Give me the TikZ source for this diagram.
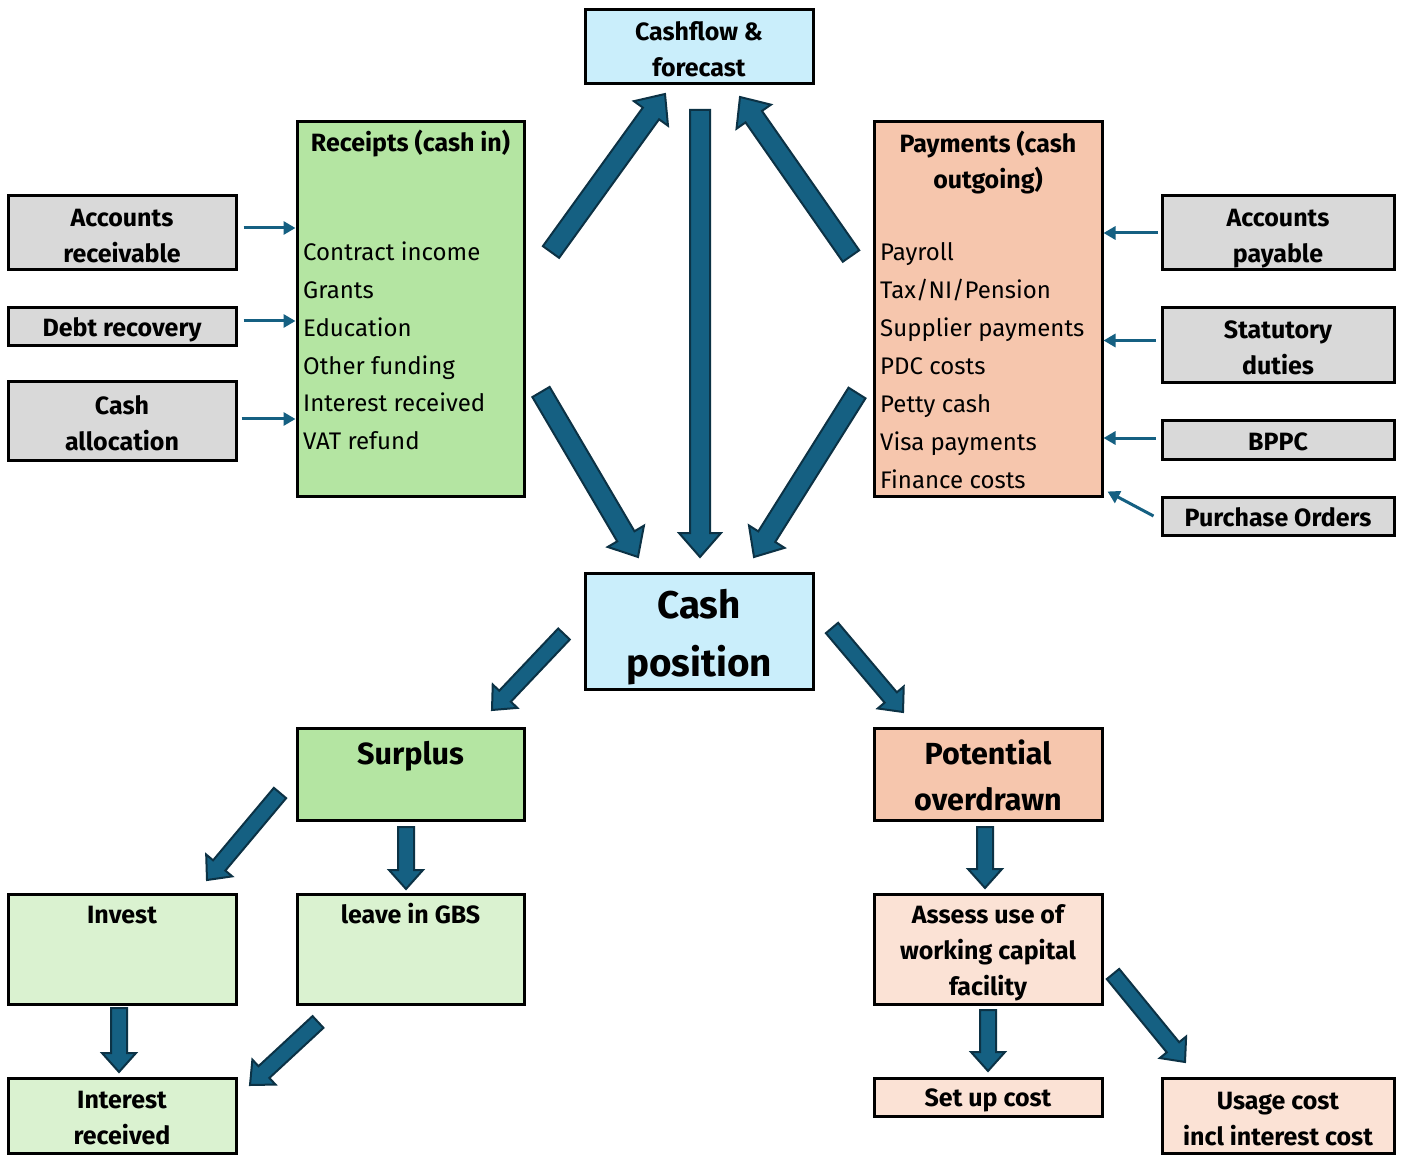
\documentclass[tikz,border=0pt]{standalone}
\usepackage{fontspec}
\setmainfont{Fira Sans}
\usetikzlibrary{calc,arrows.meta}
\definecolor{blueL}{HTML}{CAEEFB}
\definecolor{greenM}{HTML}{B4E5A2}
\definecolor{peachM}{HTML}{F6C6AD}
\definecolor{grayM}{HTML}{D9D9D9}
\definecolor{greenL}{HTML}{DAF2D0}
\definecolor{peachL}{HTML}{FBE2D5}
\definecolor{arrfill}{HTML}{156082}
\definecolor{arrline}{HTML}{0C3245}
\newcommand\barr[5]{%
  \coordinate (bk) at ($(#2)!#5!(#1)$);
  \draw[barrow] ($(#1)!#3!90:(#2)$) -- ($(bk)!#3!90:(#2)$) -- ($(bk)!#4!90:(#2)$) -- (#2)
    -- ($(bk)!#4!-90:(#2)$) -- ($(bk)!#3!-90:(#2)$) -- ($(#1)!#3!-90:(#2)$) -- cycle;}
\newcommand\bigarr[2]{\barr{#1}{#2}{10pt}{21pt}{24pt}}
\newcommand\smarr[2]{\barr{#1}{#2}{8pt}{17pt}{19pt}}
\tikzset{
  box/.style={draw=black, line width=3pt, inner sep=0pt},
  lab/.style={font=\bfseries\fontsize{25}{36}\selectfont, align=center, inner sep=0pt},
  lst/.style={font=\fontsize{24}{37.8}\selectfont, align=left, inner sep=0pt},
  barrow/.style={fill=arrfill, draw=arrline, line width=2pt, line join=miter},
  thinarr/.style={draw=arrfill, line width=3pt, -{Triangle[length=12pt,width=13pt]}},
}
\begin{document}
\begin{tikzpicture}[x=1pt,y=-1pt]
\useasboundingbox[fill=white] (0,0) rectangle (1403,1155);
% boxes
\node[box, fill=blueL, minimum width=228, minimum height=74] (cashflow) at (699,47) {};
\node[box, fill=greenM, minimum width=227, minimum height=374] (receipts) at (410.5,309) {};
\node[box, fill=peachM, minimum width=228, minimum height=374] (payments) at (988,309) {};
\node[box, fill=grayM, minimum width=228, minimum height=74] (arecv) at (122,233) {};
\node[box, fill=grayM, minimum width=228, minimum height=38] (debt) at (122,327) {};
\node[box, fill=grayM, minimum width=228, minimum height=78] (calloc) at (122,421) {};
\node[box, fill=grayM, minimum width=232, minimum height=74] (apay) at (1278,233) {};
\node[box, fill=grayM, minimum width=232, minimum height=75] (stat) at (1278,345.5) {};
\node[box, fill=grayM, minimum width=232, minimum height=38] (bppc) at (1278,440) {};
\node[box, fill=grayM, minimum width=232, minimum height=38] (po) at (1278,516) {};
\node[box, fill=blueL, minimum width=228, minimum height=116] (cashpos) at (699,631) {};
\node[box, fill=greenM, minimum width=227, minimum height=92] (surplus) at (410.5,774) {};
\node[box, fill=peachM, minimum width=228, minimum height=92] (potential) at (988,774) {};
\node[box, fill=greenL, minimum width=228, minimum height=110] (invest) at (122,949) {};
\node[box, fill=greenL, minimum width=227, minimum height=110] (gbs) at (410.5,949) {};
\node[box, fill=greenL, minimum width=228, minimum height=75] (intrec) at (122,1115.5) {};
\node[box, fill=peachL, minimum width=228, minimum height=110] (assess) at (988,949) {};
\node[box, fill=peachL, minimum width=228, minimum height=38] (setup) at (988,1097) {};
\node[box, fill=peachL, minimum width=232, minimum height=75] (usage) at (1278,1115.5) {};
% texts
\node[lab] (cashflowT) at ([yshift=-2pt]cashflow) {Cashflow \&\\forecast};
\node[lab, anchor=base] (rtitle) at (410.5,152) {Receipts (cash in)};
\node[lab, anchor=north] (ptitle) at (988,127) {\strut Payments (cash\\outgoing)};
\node[lst, anchor=north west] (rlist) at (303,234) {\strut Contract income\\Grants\\Education\\Other funding\\Interest received\\VAT refund};
\node[lst, anchor=north west, font=\fontsize{24}{38}\selectfont] (plist) at (880,234) {\strut Payroll\\Tax/NI/Pension\\Supplier payments\\PDC costs\\Petty cash\\Visa payments\\Finance costs};
\node[lab] (arecvT) at ([yshift=-3pt]arecv) {Accounts\\receivable};
\node[lab] (debtT) at ([yshift=-3pt]debt) {Debt recovery};
\node[lab] (callocT) at ([yshift=-2pt]calloc) {Cash\\allocation};
\node[lab] (apayT) at ([yshift=-6pt]apay) {Accounts\\payable};
\node[lab] (statT) at ([yshift=-2pt]stat) {Statutory\\duties};
\node[lab] (bppcT) at ([yshift=-2pt]bppc) {BPPC};
\node[lab] (poT) at ([yshift=-1pt]po) {Purchase Orders};
\node[lab, font=\bfseries\fontsize{38.6}{58}\selectfont] (cashposT) at ([yshift=-6pt]cashpos) {Cash\\position};
\node[lab, anchor=base, font=\bfseries\fontsize{30.6}{46}\selectfont] (surplusT) at (410.5,764) {Surplus};
\node[lab, font=\bfseries\fontsize{30.5}{46}\selectfont] (potentialT) at ([yshift=-1pt]potential) {Potential\\overdrawn};
\node[lab, anchor=base] (investT) at (122,923) {Invest};
\node[lab, anchor=base] (gbsT) at (410.5,923) {leave in GBS};
\node[lab] (intrecT) at ([yshift=-3pt]intrec) {Interest\\received};
\node[lab] (assessT) at ([yshift=-4pt]assess) {Assess use of\\working capital\\facility};
\node[lab] (setupT) at ([yshift=-3pt]setup) {Set up cost};
\node[lab] (usageT) at ([yshift=-4pt]usage) {Usage cost\\incl interest cost};
% thin arrows
\draw[thinarr] ([xshift=6pt,yshift=5pt]arecv.east) -- ([yshift=5pt]arecv.east -| receipts.west);
\draw[thinarr] ([xshift=6pt,yshift=6pt]debt.east) -- ([yshift=6pt]debt.east -| receipts.west);
\draw[thinarr] ([xshift=4pt,yshift=2pt]calloc.east) -- ([yshift=2pt]calloc.east -| receipts.west);
\draw[thinarr] ([xshift=-3pt]apay.west) -- (apay.west -| payments.east);
\draw[thinarr] ([xshift=-5pt,yshift=5pt]stat.west) -- ([yshift=5pt]stat.west -| payments.east);
\draw[thinarr] ([xshift=-5pt,yshift=2pt]bppc.west) -- ([yshift=2pt]bppc.west -| payments.east);
\draw[thinarr] ([xshift=-7pt]po.west) -- ([xshift=4pt,yshift=6pt]payments.south east);
% block arrow end points
\coordinate (a1t) at (551,252); \coordinate (a1h) at (665,94);
\coordinate (a2t) at (700,110); \coordinate (a2h) at (700,557);
\coordinate (a3t) at (851,256); \coordinate (a3h) at (740,97);
\coordinate (a4t) at (541,392); \coordinate (a4h) at (638,557);
\coordinate (a5t) at (857,393); \coordinate (a5h) at (754,557);
\coordinate (a6t) at (564,634); \coordinate (a6h) at (492,710);
\coordinate (a7t) at (832,628); \coordinate (a7h) at (903,712);
\coordinate (a8t) at (280,793); \coordinate (a8h) at (207,880);
\coordinate (a9t) at (406,827); \coordinate (a9h) at (406,889);
\coordinate (a10t) at (318,1022); \coordinate (a10h) at (250,1085);
\coordinate (a11t) at (119,1008); \coordinate (a11h) at (119,1072);
\coordinate (a12t) at (985,827); \coordinate (a12h) at (985,888);
\coordinate (a13t) at (988,1010); \coordinate (a13h) at (988,1071);
\coordinate (a14t) at (1113,974); \coordinate (a14h) at (1185,1062);
\bigarr{a1t}{a1h}
\bigarr{a2t}{a2h}
\bigarr{a3t}{a3h}
\bigarr{a4t}{a4h}
\bigarr{a5t}{a5h}
\smarr{a6t}{a6h}
\smarr{a7t}{a7h}
\smarr{a8t}{a8h}
\smarr{a9t}{a9h}
\smarr{a10t}{a10h}
\smarr{a11t}{a11h}
\smarr{a12t}{a12h}
\smarr{a13t}{a13h}
\smarr{a14t}{a14h}
\end{tikzpicture}
\end{document}
